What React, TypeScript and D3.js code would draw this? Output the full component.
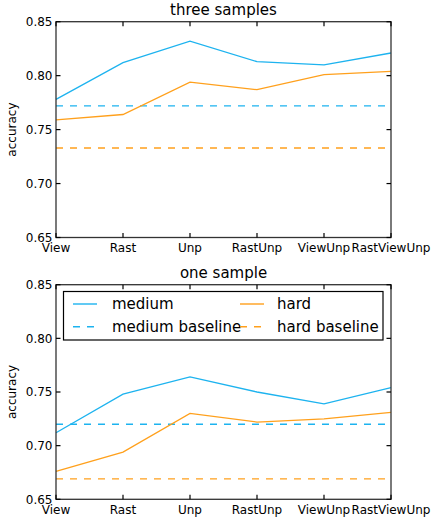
import React, { useEffect, useRef } from "react";
import * as d3 from "d3";

const categories = ["View", "Rast", "Unp", "RastUnp", "ViewUnp", "RastViewUnp"];
const yTicks = [0.65, 0.7, 0.75, 0.8, 0.85];

// three samples
const threeMedium = [0.778, 0.812, 0.832, 0.813, 0.81, 0.821];
const threeHard = [0.759, 0.764, 0.794, 0.787, 0.801, 0.804];
const threeMediumBaseline = 0.772;
const threeHardBaseline = 0.733;

// one sample
const oneMedium = [0.712, 0.748, 0.764, 0.75, 0.739, 0.754];
const oneHard = [0.676, 0.694, 0.73, 0.722, 0.725, 0.731];
const oneMediumBaseline = 0.72;
const oneHardBaseline = 0.669;

const legendItems = [
  { label: "medium", color: "#1db3ef", dashed: false },
  { label: "hard", color: "#ffa01c", dashed: false },
  { label: "medium baseline", color: "#1db3ef", dashed: true },
  { label: "hard baseline", color: "#ffa01c", dashed: true },
];

const BLUE = "#1db3ef";
const ORANGE = "#ffa01c";
const FONT = "DejaVu Sans, sans-serif";

type Panel = {
  title: string;
  top: number;
  bottom: number;
  medium: number[];
  hard: number[];
  mediumBase: number;
  hardBase: number;
  legend: boolean;
};

const panels: Panel[] = [
  {
    title: "three samples",
    top: 21.7,
    bottom: 237.5,
    medium: threeMedium,
    hard: threeHard,
    mediumBase: threeMediumBaseline,
    hardBase: threeHardBaseline,
    legend: false,
  },
  {
    title: "one sample",
    top: 284.7,
    bottom: 499.3,
    medium: oneMedium,
    hard: oneHard,
    mediumBase: oneMediumBaseline,
    hardBase: oneHardBaseline,
    legend: true,
  },
];

const App: React.FC = () => {
  const d3Container = useRef<SVGSVGElement>(null);

  useEffect(() => {
    if (!d3Container.current) return;
    const width = 431;
    const height = 519;
    const left = 56;
    const right = 391;

    const svg = d3
      .select(d3Container.current)
      .html("")
      .attr("viewBox", `0 0 ${width} ${height}`);

    svg.append("rect").attr("width", width).attr("height", height).attr("fill", "white");

    const x = d3.scalePoint<string>().domain(categories).range([left, right]);

    panels.forEach((p) => {
      const y = d3.scaleLinear().domain([0.65, 0.85]).range([p.bottom, p.top]);
      const g = svg.append("g");

      // title
      g.append("text")
        .attr("x", (left + right) / 2)
        .attr("y", p.top - 6.5)
        .attr("text-anchor", "middle")
        .attr("font-family", FONT)
        .attr("font-size", 15)
        .text(p.title);

      // y label
      g.append("text")
        .attr("transform", `translate(16,${(p.top + p.bottom) / 2}) rotate(-90)`)
        .attr("text-anchor", "middle")
        .attr("font-family", FONT)
        .attr("font-size", 12)
        .text("accuracy");

      // baselines
      const dashLine = (v: number, color: string) =>
        g.append("line")
          .attr("x1", left)
          .attr("x2", right)
          .attr("y1", y(v))
          .attr("y2", y(v))
          .attr("stroke", color)
          .attr("stroke-width", 1.4)
          .attr("stroke-dasharray", "7,7");
      dashLine(p.mediumBase, BLUE);
      dashLine(p.hardBase, ORANGE);

      const line = d3
        .line<number>()
        .x((d, i) => x(categories[i]) as number)
        .y((d) => y(d));

      g.append("path")
        .datum(p.medium)
        .attr("fill", "none")
        .attr("stroke", BLUE)
        .attr("stroke-width", 1.3)
        .attr("d", line);
      g.append("path")
        .datum(p.hard)
        .attr("fill", "none")
        .attr("stroke", ORANGE)
        .attr("stroke-width", 1.3)
        .attr("d", line);

      // frame
      g.append("rect")
        .attr("x", left)
        .attr("y", p.top)
        .attr("width", right - left)
        .attr("height", p.bottom - p.top)
        .attr("fill", "none")
        .attr("stroke", "#333")
        .attr("stroke-width", 1.3);

      // y ticks (inward, both sides)
      yTicks.forEach((t) => {
        g.append("line")
          .attr("x1", left)
          .attr("x2", left + 4.5)
          .attr("y1", y(t))
          .attr("y2", y(t))
          .attr("stroke", "black")
          .attr("stroke-width", 1.2);
        g.append("line")
          .attr("x1", right)
          .attr("x2", right - 4.5)
          .attr("y1", y(t))
          .attr("y2", y(t))
          .attr("stroke", "black")
          .attr("stroke-width", 1.2);
        g.append("text")
          .attr("x", left - 3.5)
          .attr("y", y(t))
          .attr("dy", "0.36em")
          .attr("text-anchor", "end")
          .attr("font-family", FONT)
          .attr("font-size", 12)
          .text(t.toFixed(2));
      });

      // x ticks
      categories.forEach((c) => {
        const cx = x(c) as number;
        g.append("line")
          .attr("x1", cx)
          .attr("x2", cx)
          .attr("y1", p.bottom)
          .attr("y2", p.bottom - 4.5)
          .attr("stroke", "black")
          .attr("stroke-width", 1.2);
        g.append("line")
          .attr("x1", cx)
          .attr("x2", cx)
          .attr("y1", p.top)
          .attr("y2", p.top + 4.5)
          .attr("stroke", "black")
          .attr("stroke-width", 1.2);
        g.append("text")
          .attr("x", cx)
          .attr("y", p.bottom + 14.5)
          .attr("text-anchor", "middle")
          .attr("font-family", FONT)
          .attr("font-size", 12)
          .text(c);
      });

      if (p.legend) {
        const lg = g.append("g");
        lg.append("rect")
          .attr("x", 63.5)
          .attr("y", 291.5)
          .attr("width", 319.5)
          .attr("height", 48.5)
          .attr("fill", "white")
          .attr("stroke", "black")
          .attr("stroke-width", 1.2);
        legendItems.forEach((item, i) => {
          const col = i % 2;
          const row = Math.floor(i / 2);
          const hx = col === 0 ? 73 : 240;
          const tx = col === 0 ? 112 : 277;
          const ly = 304 + row * 22.7;
          lg.append("line")
            .attr("x1", hx)
            .attr("x2", hx + 24)
            .attr("y1", ly)
            .attr("y2", ly)
            .attr("stroke", item.color)
            .attr("stroke-width", 1.4)
            .attr("stroke-dasharray", item.dashed ? "7,7" : null);
          lg.append("text")
            .attr("x", tx)
            .attr("y", ly)
            .attr("dy", "0.36em")
            .attr("font-family", FONT)
            .attr("font-size", 15)
            .text(item.label);
        });
      }
    });
  }, []);

  return (
    <svg
      ref={d3Container}
      width={431}
      height={519}
      style={{ position: "absolute", left: 0, top: 0 }}
    />
  );
};

export default App;
